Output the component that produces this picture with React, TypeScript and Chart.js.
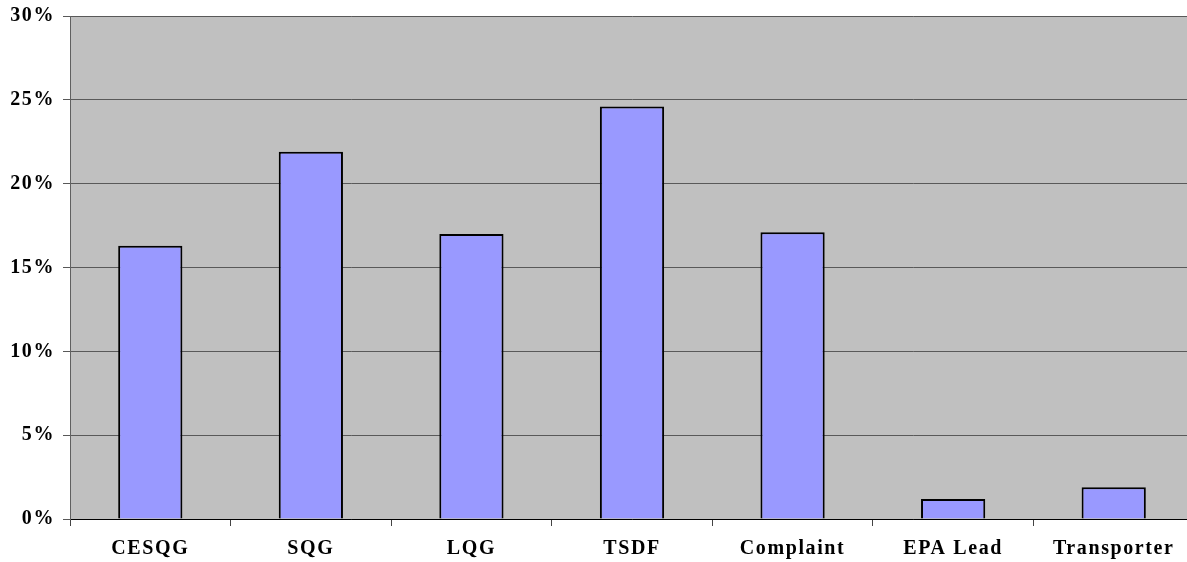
import { useEffect, useRef } from 'react';
import { Chart, registerables } from 'chart.js';

Chart.register(...registerables);

// Share of inspections by handler type (percent)
const categories = ['CESQG', 'SQG', 'LQG', 'TSDF', 'Complaint', 'EPA Lead', 'Transporter'];
const shares = [16.3, 21.9, 17.0, 24.6, 17.1, 1.2, 1.9];
const yTicks = [0, 5, 10, 15, 20, 25, 30];

const FONT = "'Liberation Serif', 'Times New Roman', serif";

// Grey plot area, plus a little letter spacing on all axis text
const plotBackground = {
  id: 'plotBackground',
  beforeDraw(chart: any) {
    const { ctx, chartArea } = chart;
    ctx.save();
    ctx.fillStyle = '#C0C0C0';
    ctx.fillRect(chartArea.left, chartArea.top, chartArea.right - chartArea.left, chartArea.bottom - chartArea.top);
    ctx.restore();
    ctx.letterSpacing = '1.6px';
  },
};

export default function App() {
  const canvasRef = useRef<HTMLCanvasElement | null>(null);

  useEffect(() => {
    const canvas = canvasRef.current;
    if (!canvas) return;
    const chart = new Chart(canvas, {
      type: 'bar',
      data: {
        labels: categories,
        datasets: [
          {
            data: shares,
            backgroundColor: '#9999FF',
            borderColor: '#000000',
            borderWidth: 2,
            barPercentage: 0.4,
            categoryPercentage: 1,
          },
        ],
      },
      options: {
        responsive: false,
        animation: false,
        layout: { padding: { top: 0, right: 0, bottom: 0, left: 0 } },
        plugins: {
          legend: { display: false },
          tooltip: { enabled: false },
        },
        scales: {
          x: {
            grid: {
              display: true,
              drawOnChartArea: false,
              drawTicks: true,
              tickLength: 7,
              color: '#444444',
              offset: true,
            },
            border: { display: true, color: '#000000', width: 1 },
            ticks: {
              color: '#000000',
              padding: 11,
              maxRotation: 0,
              autoSkip: false,
              font: { family: FONT, size: 20, weight: 'bold' },
            },
            afterFit(scale: any) {
              scale.height = 43;
            },
          },
          y: {
            min: 0,
            max: 30,
            afterBuildTicks(scale: any) {
              scale.ticks = yTicks.map((v) => ({ value: v }));
            },
            grid: {
              color: '#595959',
              lineWidth: 1,
              drawTicks: true,
              tickLength: 7,
            },
            border: { display: true, color: '#606060', width: 1 },
            ticks: {
              color: '#000000',
              padding: 8,
              font: { family: FONT, size: 20, weight: 'bold' },
              callback: (v: any) => `${v}%`,
            },
            afterFit(scale: any) {
              scale.width = 70;
              scale.paddingTop = 16;
            },
          },
        },
      },
      plugins: [plotBackground],
    });
    return () => chart.destroy();
  }, []);

  return (
    <div
      style={{
        position: 'fixed',
        left: 0,
        top: 0,
        width: 1187,
        height: 562,
        overflow: 'hidden',
        background: '#ffffff',
      }}
    >
      <canvas ref={canvasRef} width={1194} height={562} style={{ display: 'block' }} />
    </div>
  );
}
